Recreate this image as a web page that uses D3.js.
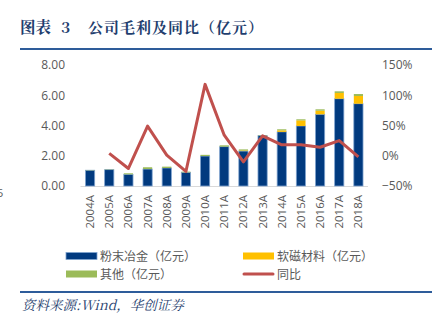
<!DOCTYPE html>
<html><head><meta charset="utf-8">
<script src="https://cdn.jsdelivr.net/npm/d3@7/dist/d3.min.js"></script>
<style>body{margin:0;background:#fff}svg{display:block}</style>
</head><body>
<script>
const categories = ["2004A","2005A","2006A","2007A","2008A","2009A","2010A","2011A","2012A","2013A","2014A","2015A","2016A","2017A","2018A"];
const powder = [1.04,1.08,0.77,1.12,1.19,0.90,1.98,2.60,2.31,3.33,3.58,3.97,4.74,5.77,5.44];
const softMag = [0,0,0,0,0,0,0,0,0.04,0,0.10,0.37,0.24,0.38,0.51];
const other = [0.02,0.02,0.07,0.12,0.09,0.05,0.08,0.09,0.07,0.03,0.07,0.07,0.09,0.11,0.13];
const yoy = [null,0.04,-0.21,0.49,0.01,-0.26,1.18,0.34,-0.10,0.33,0.18,0.18,0.14,0.25,-0.02];
const leftTicks = [0,2,4,6,8];
const rightTicks = [-0.5,0,0.5,1,1.5];
const legendItems = [
  {name:"粉末冶金（亿元）", key:"powder"},
  {name:"软磁材料（亿元）", key:"soft"},
  {name:"其他（亿元）", key:"other"},
  {name:"同比", key:"yoy"}
];
const colors = {powder:"#013a7f", soft:"#ffc000", other:"#9bbb59", yoy:"#c0504d"};

const W=442,H=328;
const svg=d3.select("body").append("svg").attr("width",W).attr("height",H);
const font="'Noto Sans CJK SC','Noto Sans',sans-serif";
const serif="'Noto Serif CJK SC','Noto Sans CJK SC',serif";

// title
svg.append("text").attr("x",20).attr("y",33).attr("font-family",serif)
  .attr("font-weight","bold").attr("font-size",15.5).attr("fill","#1f3e6e").text("图表");
svg.append("text").attr("x",61).attr("y",33).attr("font-family",serif)
  .attr("font-weight","bold").attr("font-size",15.5).attr("fill","#1f3e6e").text("3");
svg.append("text").attr("x",88).attr("y",33).attr("font-family",serif)
  .attr("font-weight","bold").attr("font-size",15).attr("fill","#1f3e6e").attr("letter-spacing",1).text("公司毛利及同比（亿元）");
svg.append("line").attr("x1",20).attr("x2",432).attr("y1",49).attr("y2",49).attr("stroke","#2e5c9a").attr("stroke-width",2);

const x=d3.scaleBand().domain(categories).range([80.5,368]).paddingInner(0.52).paddingOuter(0.26);
const yL=d3.scaleLinear().domain([0,8]).range([186,65]);
const yR=d3.scaleLinear().domain([-0.5,1.5]).range([186,65]);

// left axis
svg.append("g").attr("transform","translate(65,0)")
  .call(d3.axisLeft(yL).tickValues(leftTicks).tickFormat(d3.format(".2f")).tickSize(0).tickPadding(0))
  .call(g=>{g.select(".domain").remove();g.selectAll("text").attr("font-family","'Open Sans','DejaVu Sans',sans-serif").attr("font-size",12).attr("fill","#595959");});
// right axis
svg.append("g").attr("transform","translate(382,0)")
  .call(d3.axisRight(yR).tickValues(rightTicks).tickFormat(d3.format(".0%")).tickSize(0).tickPadding(0))
  .call(g=>{g.select(".domain").remove();g.selectAll("text").attr("font-family","'Open Sans','DejaVu Sans',sans-serif").attr("font-size",12).attr("fill","#595959");});

// baseline
svg.append("line").attr("x1",80.5).attr("x2",368).attr("y1",186.5).attr("y2",186.5).attr("stroke","#d9d9d9").attr("stroke-width",1);

// bars
const stacks=categories.map((c,i)=>({c,p:powder[i],s:softMag[i],o:other[i]}));
const g=svg.append("g");
stacks.forEach(d=>{
  const bx=x(d.c), bw=x.bandwidth();
  g.append("rect").attr("x",bx).attr("width",bw).attr("y",yL(d.p)).attr("height",yL(0)-yL(d.p))
    .attr("fill",colors.powder).attr("stroke","#7fa3cf").attr("stroke-width",0.8);
  if(d.s>0) g.append("rect").attr("x",bx).attr("width",bw).attr("y",yL(d.p+d.s)).attr("height",yL(d.p)-yL(d.p+d.s))
    .attr("fill",colors.soft);
  if(d.o>0) g.append("rect").attr("x",bx).attr("width",bw).attr("y",yL(d.p+d.s+d.o)).attr("height",yL(d.p+d.s)-yL(d.p+d.s+d.o))
    .attr("fill",colors.other);
});

// line
const line=d3.line().defined(d=>d.v!==null).x(d=>x(d.c)+x.bandwidth()/2).y(d=>yR(d.v));
svg.append("path").datum(categories.map((c,i)=>({c,v:yoy[i]})))
  .attr("d",line).attr("fill","none").attr("stroke",colors.yoy).attr("stroke-width",3).attr("stroke-linejoin","round");

// x labels
svg.append("g").attr("transform","translate(0,195)")
  .call(d3.axisBottom(x).tickSize(0).tickPadding(0))
  .call(g=>{g.select(".domain").remove();
    g.selectAll("text").attr("transform","rotate(-90)").attr("text-anchor","end").attr("dy","0.35em").attr("x",0).attr("y",0)
     .attr("font-family","'Open Sans','DejaVu Sans',sans-serif").attr("font-size",11.5).attr("fill","#595959");});

// fragment of text at left edge (as in the reference)
svg.append("text").attr("x",-3).attr("y",197).attr("font-family","'Open Sans',sans-serif").attr("font-size",11).attr("fill","#595959").text("5");

// legend
const lpos=[[66,256],[243,256],[66,274],[243,274]];
legendItems.forEach((it,i)=>{
  const [lx,ly]=lpos[i];
  if(it.key==="yoy"){
    svg.append("line").attr("x1",lx+1).attr("x2",lx+30).attr("y1",ly).attr("y2",ly).attr("stroke",colors.yoy).attr("stroke-width",3).attr("stroke-linecap","round");
  } else {
    svg.append("rect").attr("x",lx).attr("y",ly-3.5).attr("width",31).attr("height",7).attr("fill",colors[it.key])
      .attr("stroke",it.key==="powder"?"#7fa3cf":"none").attr("stroke-width",0.8);
  }
  svg.append("text").attr("x",lx+34).attr("y",ly+4.5).attr("font-family",font).attr("font-size",12).attr("fill","#595959").text(it.name);
});

// bottom rule and source
svg.append("line").attr("x1",20).attr("x2",432).attr("y1",292).attr("y2",292).attr("stroke","#2e5c9a").attr("stroke-width",2);
svg.append("text").attr("x",22).attr("y",310).attr("font-family",serif).attr("font-style","italic")
  .attr("font-size",13.5).attr("fill","#1f3e6e").text("资料来源:Wind，华创证券");
</script>
</body></html>
